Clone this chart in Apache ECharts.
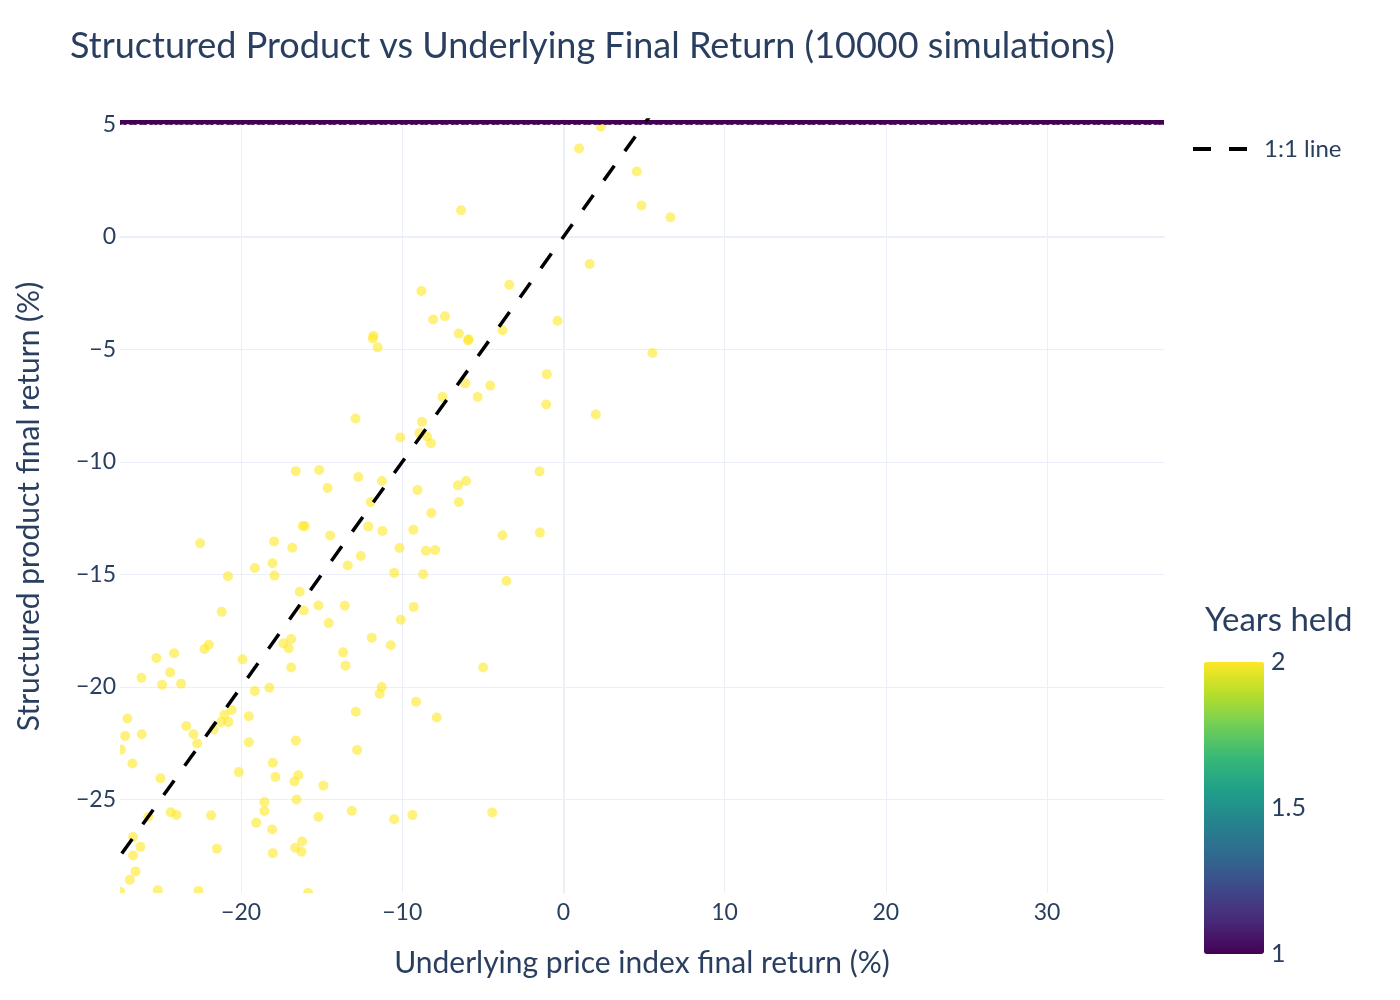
<!DOCTYPE html>
<html>
<head>
<meta charset="utf-8">
<script src="https://cdn.jsdelivr.net/npm/echarts@6/dist/echarts.min.js"></script>
<style>html,body{margin:0;padding:0;background:#fff}#c{width:1400px;height:1000px}</style>
</head>
<body>
<div id="c"></div>
<script>
// ---- data ----
const titleText = 'Structured Product vs Underlying Final Return (10000 simulations)';
const xTitle = 'Underlying price index final return (%)';
const yTitle = 'Structured product final return (%)';
const colorbarTitle = 'Years held';
const colorbarTicks = [1, 1.5, 2];
const xRange = [-27.51, 37.26];
const yRange = [-29.15, 5.19];

// held 2 years (yellow)
const heldTwoX = [2.32,0.97,4.55,4.84,6.64,-6.35,1.63,-8.81,-3.36,-8.08,-7.35,-0.37,-11.78,-11.83,-11.52,-6.49,-5.92,-5.88,-3.78,5.52,
-1.03,-1.07,2.01,-6.09,-4.54,-5.32,-7.50,-12.90,-8.77,-10.12,-8.93,-8.46,-8.22,-16.60,-15.15,-12.73,-14.63,-11.26,-11.95,-9.05,
-6.54,-6.04,-6.49,-8.20,-1.48,-1.46,-3.78,-22.54,-20.81,-19.14,-18.05,-17.93,-17.95,-16.82,-16.36,-16.05,-16.17,-14.47,-13.38,-12.57,
-12.11,-11.23,-9.31,-10.17,-8.53,-7.96,-10.50,-8.70,-3.54,-16.11,-15.20,-13.57,-14.56,-9.29,-10.09,-21.20,-11.89,-10.71,-13.67,-13.52,
-17.37,-17.04,-16.89,-16.89,-4.98,-22.27,-22.00,-25.25,-24.15,-24.40,-26.18,-24.90,-23.72,-19.91,-19.15,-18.24,-11.40,-11.27,-9.14,-7.86,
-12.88,-12.80,-27.05,-27.19,-26.16,-27.45,-26.74,-23.40,-22.95,-22.72,-21.69,-21.24,-21.03,-20.78,-20.58,-19.52,-19.52,-20.14,-18.03,-17.87,
-16.60,-16.69,-16.44,-16.56,-14.89,-25.00,-25.76,-24.36,-24.00,-21.86,-18.55,-18.55,-19.06,-18.07,-15.20,-13.13,-10.50,-9.37,-4.42,-26.70,
-26.24,-26.70,-26.55,-26.90,-21.50,-18.03,-16.64,-16.21,-16.25,-25.17,-22.64,-15.84,-27.50];
const heldTwoY = [4.89,3.92,2.90,1.39,0.87,1.18,-1.21,-2.41,-2.13,-3.67,-3.53,-3.73,-4.39,-4.52,-4.91,-4.30,-4.60,-4.55,-4.15,-5.16,
-6.10,-7.45,-7.89,-6.50,-6.61,-7.11,-7.11,-8.07,-8.22,-8.91,-8.72,-8.87,-9.17,-10.41,-10.36,-10.67,-11.16,-10.85,-11.78,-11.25,
-11.04,-10.85,-11.78,-12.27,-10.42,-13.14,-13.26,-13.61,-15.08,-14.71,-14.50,-15.05,-13.53,-13.81,-15.77,-12.85,-12.85,-13.27,-14.60,-14.18,
-12.87,-13.07,-13.01,-13.82,-13.95,-13.91,-14.93,-14.99,-15.29,-16.60,-16.38,-16.39,-17.16,-16.44,-17.01,-16.66,-17.81,-18.14,-18.46,-19.05,
-18.06,-18.28,-17.87,-19.13,-19.13,-18.31,-18.12,-18.71,-18.50,-19.35,-19.59,-19.90,-19.85,-18.77,-20.18,-20.03,-20.30,-20.00,-20.65,-21.35,
-21.10,-22.80,-21.40,-22.17,-22.10,-22.78,-23.40,-21.73,-22.10,-22.51,-21.88,-21.55,-21.23,-21.55,-21.02,-21.30,-22.45,-23.78,-23.36,-24.00,
-22.38,-24.20,-23.92,-25.00,-24.38,-24.05,-25.77,-25.56,-25.68,-25.70,-25.11,-25.51,-26.03,-26.33,-25.77,-25.50,-25.87,-25.69,-25.57,-26.66,
-27.10,-27.48,-28.19,-28.56,-27.18,-27.38,-27.14,-26.86,-27.32,-29.03,-29.06,-29.15,-29.10];

// held 1 year (purple): capped return, dense row along the top
const heldOneY = 5.19;
const heldOneX = [-27.50,-27.21,-26.83,-26.58,-26.19,-25.95,-25.57,-25.29,-24.99,-24.61,
-24.35,-24.00,-23.71,-23.36,-23.08,-22.70,-22.44,-22.09,-21.81,-21.43,
-21.19,-20.80,-20.55,-20.18,-19.90,-19.53,-19.27,-18.90,-18.63,-18.26,
-18.01,-17.63,-17.36,-17.00,-16.74,-16.37,-16.10,-15.73,-15.48,-15.10,
-14.84,-14.46,-14.21,-13.83,-13.57,-13.19,-12.94,-12.56,-12.30,-11.92,
-11.67,-11.30,-11.04,-10.66,-10.41,-10.03,-9.77,-9.40,-9.14,-8.77,
-8.51,-8.13,-7.88,-7.50,-7.25,-6.87,-6.61,-6.24,-5.98,-5.60,
-5.35,-4.97,-4.72,-4.34,-4.08,-3.71,-3.45,-3.08,-2.82,-2.44,
-2.19,-1.81,-1.56,-1.18,-0.92,-0.55,-0.29,0.08,0.34,0.72,
0.97,1.35,1.60,1.98,2.24,2.61,2.87,3.24,3.50,3.88,
4.13,4.51,4.76,5.14,5.40,5.77,6.03,6.40,6.66,7.04,
7.29,7.67,7.92,8.30,8.56,8.93,9.19,9.56,9.82,10.20,
10.45,10.83,11.08,11.46,11.72,12.09,12.35,12.72,12.98,13.36,
13.61,13.99,14.24,14.62,14.88,15.25,15.51,15.88,16.14,16.52,
16.77,17.15,17.40,17.78,18.04,18.41,18.67,19.04,19.30,19.68,
19.93,20.31,20.56,20.94,21.20,21.57,21.83,22.20,22.46,22.84,
23.09,23.47,23.72,24.10,24.36,24.73,24.99,25.36,25.62,26.00,
26.25,26.63,26.88,27.26,27.52,27.89,28.15,28.52,28.78,29.16,
29.41,29.79,30.04,30.42,30.68,31.05,31.31,31.68,31.94,32.32,
32.57,32.95,33.20,33.58,33.84,34.21,34.47,34.84,35.10,35.48,
35.73,36.11,36.36,36.74,37.00,37.26];

const oneToOne = [-30, 40];
const viridis = ['#440154','#482878','#3e4989','#31688e','#26828e','#1f9e89','#35b779','#6ece58','#b5de2b','#fde725'];

// ---- chart ----
const FONT = 'Lato';
const INK = '#2a3f5f';
const GRID = '#EBF0F8';
const G = {left:120, right:236, top:120, bottom:107};
const chart = echarts.init(document.getElementById('c'), null, {renderer:'canvas'});
const minusFmt = v => String(v).replace('-', '\u2212');

const yellowData = heldTwoX.map((x,i) => [x, heldTwoY[i], 2]);
const purpleData = heldOneX.map(x => [x, heldOneY, 1]);
const lineData = oneToOne.map(v => [v, v]);

const cbTop = 662, cbH = 292, cbLeft = 1204, cbW = 60;
const cbMin = Math.min(...colorbarTicks), cbMax = Math.max(...colorbarTicks);
const graphics = colorbarTicks.map(t => ({
  type:'text', left: cbLeft + cbW + 7, top: cbTop + (cbMax - t)/(cbMax - cbMin)*cbH - 13,
  style:{text:String(t), font:'25px ' + FONT, fill:INK}
}));
graphics.push({type:'text', left:1205, top:604, style:{text:colorbarTitle, font:'33px ' + FONT, fill:INK}});

const baseAxis = {
  type:'value',
  axisLine:{show:false, onZero:false},
  axisTick:{show:false},
  splitLine:{show:true, showMinLine:false, showMaxLine:false, lineStyle:{color:GRID, width:1}},
  axisLabel:{color:INK, fontFamily:FONT, fontSize:23, showMinLabel:false, showMaxLabel:false, formatter:minusFmt},
  nameTextStyle:{color:INK, fontFamily:FONT, fontSize:30},
  nameLocation:'middle'
};
const zeroAxis = {
  type:'value', show:true,
  axisLine:{show:true, onZero:true, lineStyle:{color:GRID, width:2}},
  axisTick:{show:false}, axisLabel:{show:false}, splitLine:{show:false}
};

function dotRenderer(opacity) {
  return function (params, api) {
    const p = api.coord([api.value(0), api.value(1)]);
    return {type:'circle', shape:{cx:p[0], cy:p[1], r:5},
      style:{fill:api.visual('color'), opacity:opacity}};
  };
}

chart.setOption({
  backgroundColor:'#fff',
  animation:false,
  title:{text:titleText, left:70, top:28, padding:0, textStyle:{color:INK, fontFamily:FONT, fontSize:36, fontWeight:'normal'}},
  grid:G,
  legend:{data:[{name:'1:1 line', icon:'path://M0,0H18V4H0Z M36,0H54V4H36Z'}], left:1193, top:137, padding:0,
    itemWidth:54, itemHeight:4,
    itemStyle:{color:'#000', borderWidth:0, opacity:1},
    textStyle:{color:INK, fontFamily:FONT, fontSize:24, rich:{p:{width:12}}},
    formatter: name => '{p|}' + name},
  visualMap:{type:'continuous', min:cbMin, max:cbMax, dimension:2, seriesIndex:[0,1],
    orient:'vertical', left:cbLeft, top:cbTop, itemWidth:cbW, itemHeight:cbH, padding:0,
    calculable:false, hoverLink:false, text:null, showLabel:false, inRange:{color:viridis}},
  xAxis:[
    Object.assign({}, baseAxis, {min:xRange[0], max:xRange[1], name:xTitle, nameGap:55, position:'bottom',
      axisLabel:Object.assign({}, baseAxis.axisLabel, {margin:8})}),
    Object.assign({}, zeroAxis, {min:xRange[0], max:xRange[1], position:'bottom'})
  ],
  yAxis:[
    Object.assign({}, baseAxis, {min:yRange[0], max:yRange[1], splitNumber:7, name:yTitle, nameGap:76, position:'left',
      axisLabel:Object.assign({}, baseAxis.axisLabel, {margin:4})}),
    Object.assign({}, zeroAxis, {min:yRange[0], max:yRange[1], splitNumber:7, position:'left'})
  ],
  graphic:graphics,
  series:[
    {type:'custom', name:'held 2y', data:yellowData, renderItem:dotRenderer(0.6), clip:true, z:2, silent:true,
      encode:{x:0, y:1}},
    {type:'custom', name:'held 1y', data:purpleData, renderItem:dotRenderer(1), clip:true, z:3, silent:true,
      encode:{x:0, y:1}},
    {type:'line', name:'1:1 line', data:lineData, symbol:'none', clip:true, z:4,
      lineStyle:{color:'#000', width:3.5, type:[18,18]}, itemStyle:{color:'#000'}}
  ]
});
</script>
</body>
</html>
